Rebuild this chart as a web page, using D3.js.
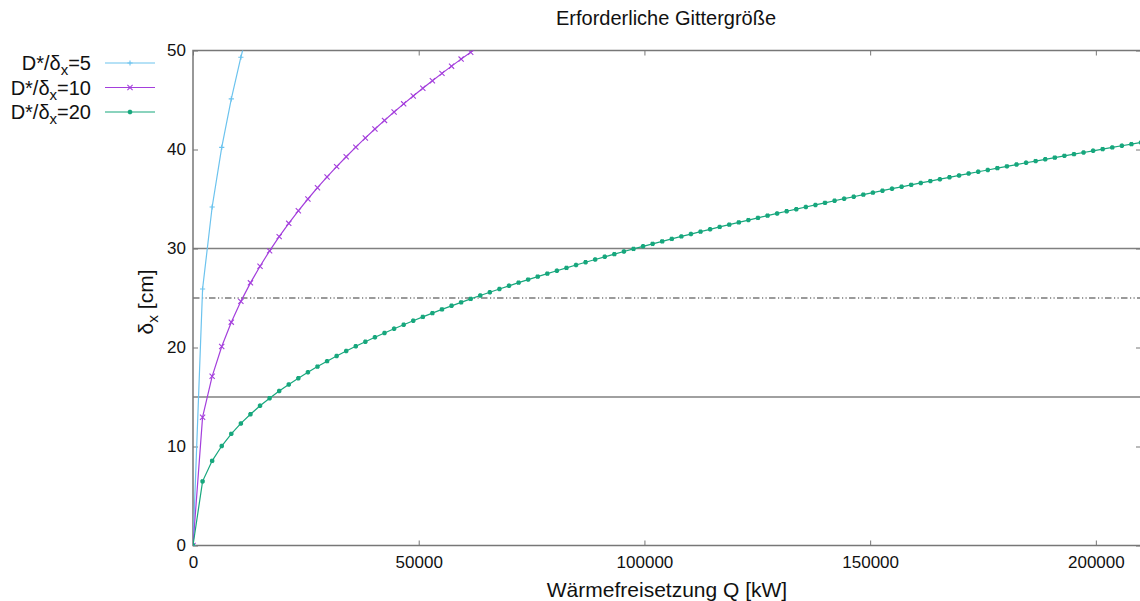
<!DOCTYPE html>
<html><head><meta charset="utf-8">
<script src="https://cdn.jsdelivr.net/npm/d3@7"></script>
<style>
html,body{margin:0;padding:0;background:#fff;}
svg{display:block;font-family:"Liberation Sans",Arial,sans-serif;}
</style></head><body>
<svg id="chart" width="1140" height="601"></svg>
<script>
// Heat release rate Q [kW] at the sampled positions
const qValues = [0, 2121, 4242, 6364, 8485, 10606, 12727, 14848, 16970, 19091,
  21212, 23333, 25455, 27576, 29697, 31818, 33939, 36061, 38182, 40303,
  42424, 44545, 46667, 48788, 50909, 53030, 55152, 57273, 59394, 61515,
  63636, 65758, 67879, 70000, 72121, 74242, 76364, 78485, 80606, 82727,
  84848, 86970, 89091, 91212, 93333, 95455, 97576, 99697, 101818, 103939,
  106061, 108182, 110303, 112424, 114545, 116667, 118788, 120909, 123030, 125152,
  127273, 129394, 131515, 133636, 135758, 137879, 140000, 142121, 144242, 146364,
  148485, 150606, 152727, 154848, 156970, 159091, 161212, 163333, 165455, 167576,
  169697, 171818, 173939, 176061, 178182, 180303, 182424, 184545, 186667, 188788,
  190909, 193030, 195152, 197273, 199394, 201515, 203636, 205758, 207879, 210000];

// Required cell size δx [cm] for D*/δx = 5
const cellRatio5 = [0, 25.91, 34.19, 40.21, 45.11, 49.32, 53.06];

// Required cell size δx [cm] for D*/δx = 10
const cellRatio10 = [0, 12.96, 17.09, 20.10, 22.56, 24.66, 26.53, 28.21, 29.76, 31.20,
  32.54, 33.81, 35.00, 36.14, 37.23, 38.27, 39.27, 40.24, 41.17, 42.07,
  42.94, 43.79, 44.61, 45.41, 46.19, 46.95, 47.69, 48.42, 49.13, 49.82, 50.50];

// Required cell size δx [cm] for D*/δx = 20
const cellRatio20 = [0, 6.48, 8.55, 10.05, 11.28, 12.33, 13.26, 14.11, 14.88, 15.60,
  16.27, 16.90, 17.50, 18.07, 18.62, 19.14, 19.64, 20.12, 20.58, 21.03,
  21.47, 21.89, 22.30, 22.70, 23.09, 23.47, 23.85, 24.21, 24.56, 24.91,
  25.25, 25.58, 25.91, 26.23, 26.55, 26.86, 27.16, 27.46, 27.75, 28.04,
  28.33, 28.61, 28.89, 29.16, 29.43, 29.70, 29.96, 30.22, 30.47, 30.72,
  30.97, 31.22, 31.46, 31.70, 31.94, 32.18, 32.41, 32.64, 32.87, 33.09,
  33.32, 33.54, 33.76, 33.97, 34.19, 34.40, 34.61, 34.82, 35.03, 35.23,
  35.44, 35.64, 35.84, 36.04, 36.23, 36.43, 36.62, 36.81, 37.00, 37.19,
  37.38, 37.57, 37.75, 37.93, 38.12, 38.30, 38.48, 38.66, 38.83, 39.01,
  39.18, 39.36, 39.53, 39.70, 39.87, 40.04, 40.21, 40.38, 40.54, 40.71];

const ratioLabels = ["5", "10", "20"];
const xTickValues = [0, 50000, 100000, 150000, 200000];
const yTickValues = [0, 10, 20, 30, 40, 50];
const solidLevels = [30, 15];
const dashedLevels = [25];

const seriesList = [
  {label: ratioLabels[0], values: cellRatio5, color: "#6cc3ee", marker: "plus"},
  {label: ratioLabels[1], values: cellRatio10, color: "#a43fdc", marker: "cross"},
  {label: ratioLabels[2], values: cellRatio20, color: "#17a77d", marker: "star"}
];

const svg = d3.select("#chart");
const m = {left: 193, right: 1141, top: 50.5, bottom: 545.5};

const x = d3.scaleLinear().domain([0, 210000]).range([m.left, m.right]);
const y = d3.scaleLinear().domain([0, 50]).range([m.bottom, m.top]);

const axisColor = "#777";
const fontStack = '"Liberation Sans", Arial, sans-serif';

svg.append("defs").append("clipPath").attr("id", "plotClip")
  .append("rect").attr("x", m.left).attr("y", m.top)
  .attr("width", m.right - m.left).attr("height", m.bottom - m.top);

// Reference levels
svg.append("g").selectAll("line").data(solidLevels).join("line")
  .attr("x1", m.left).attr("x2", m.right)
  .attr("y1", d => y(d)).attr("y2", d => y(d))
  .attr("stroke", "#808080").attr("stroke-width", 1.5);
svg.append("g").selectAll("line").data(dashedLevels).join("line")
  .attr("x1", m.left).attr("x2", m.right)
  .attr("y1", d => y(d)).attr("y2", d => y(d))
  .attr("stroke", "#7a7a7a").attr("stroke-width", 1.3)
  .attr("stroke-dasharray", "6.5,2.5,1.2,2.3,1.2,2.3");

// Axes with inward ticks (mirrored on top and right)
const tickLen = 5;
const xAxisG = svg.append("g").attr("transform", `translate(0,${m.bottom})`)
  .call(d3.axisBottom(x).tickValues(xTickValues).tickSize(-tickLen).tickPadding(10).tickFormat(d3.format("d")));
const xAxisTop = svg.append("g").attr("transform", `translate(0,${m.top})`)
  .call(d3.axisTop(x).tickValues(xTickValues).tickSize(-tickLen).tickFormat(""));
const yAxisG = svg.append("g").attr("transform", `translate(${m.left},0)`)
  .call(d3.axisLeft(y).tickValues(yTickValues).tickSize(-tickLen).tickPadding(7).tickFormat(d3.format("d")));
const yAxisRight = svg.append("g").attr("transform", `translate(${m.right},0)`)
  .call(d3.axisRight(y).tickValues(yTickValues).tickSize(-tickLen).tickFormat(""));

[xAxisG, xAxisTop, yAxisG, yAxisRight].forEach(g => {
  g.select(".domain").remove();
  g.selectAll(".tick line").attr("stroke", axisColor).attr("stroke-width", 1);
  g.selectAll(".tick text").attr("fill", "#111").attr("font-size", 17).attr("font-family", fontStack);
});

// Plot border
svg.append("rect").attr("x", m.left).attr("y", m.top)
  .attr("width", m.right - m.left).attr("height", m.bottom - m.top)
  .attr("fill", "none").attr("stroke", axisColor).attr("stroke-width", 1.5);

// Marker shapes
function markerPath(kind, s) {
  if (kind === "plus") return `M${-s},0H${s}M0,${-s}V${s}`;
  if (kind === "cross") return `M${-s},${-s}L${s},${s}M${-s},${s}L${s},${-s}`;
  return `M${-s},0H${s}M0,${-s}V${s}M${-s*0.75},${-s*0.75}L${s*0.75},${s*0.75}M${-s*0.75},${s*0.75}L${s*0.75},${-s*0.75}`;
}

const line = d3.line().x(d => x(d.q)).y(d => y(d.v));
const plot = svg.append("g").attr("clip-path", "url(#plotClip)");

seriesList.forEach(s => {
  const pts = s.values.map((v, i) => ({q: qValues[i], v}));
  plot.append("path").datum(pts).attr("d", line)
    .attr("fill", "none").attr("stroke", s.color).attr("stroke-width", 1.2);
  const size = s.marker === "star" ? 2.2 : 2.6;
  plot.append("g").selectAll("path").data(pts).join("path")
    .attr("transform", d => `translate(${x(d.q)},${y(d.v)})`)
    .attr("d", markerPath(s.marker, size))
    .attr("stroke", s.color).attr("stroke-width", s.marker === "star" ? 1.8 : 1.1)
    .attr("fill", "none");
});

// Legend
const legend = svg.append("g");
seriesList.forEach((s, i) => {
  const ly = 63 + i * 24.5;
  const t = legend.append("text").attr("x", 91).attr("y", ly + 7)
    .attr("text-anchor", "end").attr("font-size", 20).attr("fill", "#111")
    .attr("font-family", fontStack);
  t.append("tspan").text("D*/δ");
  t.append("tspan").attr("font-size", 15).attr("dy", 5).text("x");
  t.append("tspan").attr("dy", -5).text("=" + s.label);
  legend.append("line").attr("x1", 105).attr("x2", 155).attr("y1", ly).attr("y2", ly)
    .attr("stroke", s.color).attr("stroke-width", 1.2);
  legend.append("path").attr("transform", `translate(130,${ly})`)
    .attr("d", markerPath(s.marker, s.marker === "star" ? 2.2 : 2.6))
    .attr("stroke", s.color).attr("stroke-width", s.marker === "star" ? 1.8 : 1.1).attr("fill", "none");
});

// Title and axis titles
svg.append("text").attr("x", 666).attr("y", 25).attr("text-anchor", "middle")
  .attr("font-size", 20).attr("fill", "#111").attr("font-family", fontStack)
  .text("Erforderliche Gittergröße");

svg.append("text").attr("x", 667).attr("y", 597).attr("text-anchor", "middle")
  .attr("font-size", 21).attr("fill", "#111").attr("font-family", fontStack)
  .text("Wärmefreisetzung Q [kW]");

const yt = svg.append("text").attr("transform", "translate(153,302) rotate(-90)")
  .attr("text-anchor", "middle").attr("font-size", 21).attr("fill", "#111")
  .attr("font-family", fontStack);
yt.append("tspan").text("δ");
yt.append("tspan").attr("font-size", 15.5).attr("dy", 5).text("x");
yt.append("tspan").attr("dy", -5).text(" [cm]");
</script>
</body></html>
